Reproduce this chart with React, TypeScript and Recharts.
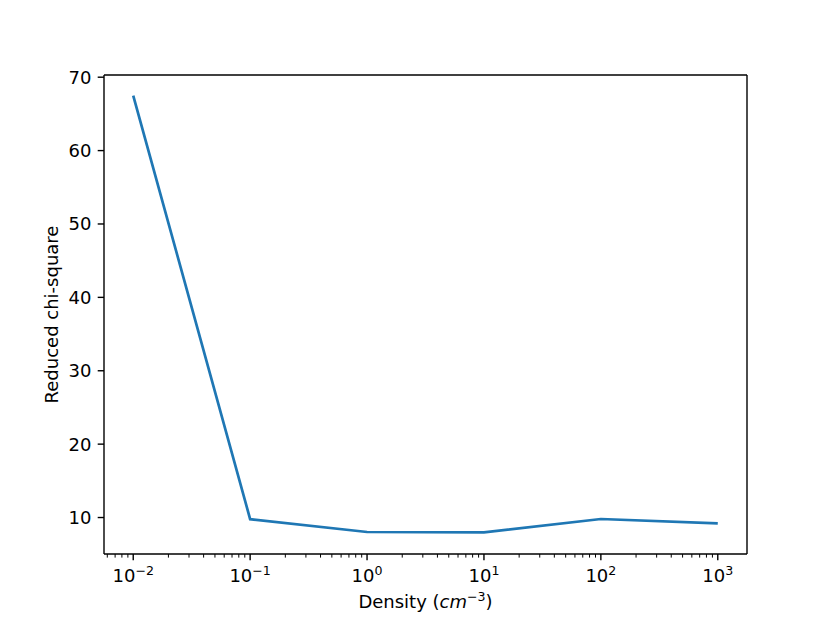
import React from 'react';
import { LineChart, Line, XAxis, YAxis, ReferenceLine } from 'recharts';

const densities = [0.01, 0.1, 1, 10, 100, 1000];
const chiSquare = [67.5, 9.78, 8.03, 7.99, 9.8, 9.2];

const majorTicks = [0.01, 0.1, 1, 10, 100, 1000];
const majorExponents = ['−2', '−1', '0', '1', '2', '3'];
const minorTicks = [
  0.006, 0.007, 0.008, 0.009,
  0.02, 0.03, 0.04, 0.05, 0.06, 0.07, 0.08, 0.09,
  0.2, 0.3, 0.4, 0.5, 0.6, 0.7, 0.8, 0.9,
  2, 3, 4, 5, 6, 7, 8, 9,
  20, 30, 40, 50, 60, 70, 80, 90,
  200, 300, 400, 500, 600, 700, 800, 900,
];
const yTicks = [10, 20, 30, 40, 50, 60, 70];

const X_MIN = Math.pow(10, -2.25);
const X_MAX = Math.pow(10, 3.25);
const Y_MIN = 5.03;
const Y_MAX = 70.3;

const data = densities.map((d, i) => ({ density: d, chi: chiSquare[i] }));
const allXTicks = [...majorTicks, ...minorTicks].sort((a, b) => a - b);

const FONT = 'DejaVu Sans, sans-serif';

const XTick = (props: any) => {
  const { x, y, payload } = props;
  const idx = majorTicks.findIndex((t) => Math.abs(Math.log10(t) - Math.log10(payload.value)) < 1e-6);
  const isMajor = idx >= 0;
  return (
    <g>
      <line x1={x} x2={x} y1={y} y2={y + (isMajor ? 6.3 : 3.6)} stroke="#000" strokeWidth={isMajor ? 1.4 : 1.0} />
      {isMajor && (
        <text x={x} y={y + 28} textAnchor="middle" fontFamily={FONT} fontSize={18} fill="#000">
          <tspan>10</tspan>
          <tspan fontSize={12.6} dy={-7.5}>{majorExponents[idx]}</tspan>
        </text>
      )}
    </g>
  );
};

const XLabel = (props: any) => {
  const vb = props.viewBox || {};
  const cx = vb.x + vb.width / 2;
  return (
    <text x={cx} y={608} textAnchor="middle" fontFamily={FONT} fontSize={18} fill="#000">
      <tspan>Density (</tspan>
      <tspan fontStyle="italic">cm</tspan>
      <tspan fontSize={12.6} dy={-7.5}>−3</tspan>
      <tspan dy={7.5}>)</tspan>
    </text>
  );
};

const YLabel = (props: any) => {
  const vb = props.viewBox || {};
  const cy = vb.y + vb.height / 2;
  return (
    <text x={52} y={cy} transform={`rotate(-90, 52, ${cy})`} textAnchor="middle" dy="0.35em" fontFamily={FONT} fontSize={18} fill="#000">
      Reduced chi-square
    </text>
  );
};

export default function App() {
  return (
    <div style={{ position: 'absolute', left: 0, top: 0, width: 830, height: 623, background: '#fff' }}>
      <LineChart width={830} height={623} data={data} margin={{ top: 75, right: 83, bottom: 29, left: 44 }}>
        <XAxis
          dataKey="density"
          type="number"
          scale="log"
          domain={[X_MIN, X_MAX]}
          allowDataOverflow
          ticks={allXTicks}
          interval={0}
          tick={<XTick />}
          tickLine={false}
          tickSize={0}
          tickMargin={0}
          height={40}
          stroke="#000"
          strokeWidth={1.4}
          label={<XLabel />}
        />
        <YAxis
          type="number"
          domain={[Y_MIN, Y_MAX]}
          allowDataOverflow
          ticks={yTicks}
          interval={0}
          width={60}
          tickSize={6.3}
          tickMargin={6.3}
          stroke="#000"
          strokeWidth={1.4}
          tick={{ fill: '#000', fontFamily: FONT, fontSize: 18 }}
          label={<YLabel />}
        />
        <ReferenceLine y={Y_MAX} stroke="#000" strokeWidth={1.4} />
        <ReferenceLine x={X_MAX} stroke="#000" strokeWidth={1.4} />
        <Line
          dataKey="chi"
          stroke="#1f77b4"
          strokeWidth={2.7}
          dot={false}
          isAnimationActive={false}
        />
      </LineChart>
    </div>
  );
}
